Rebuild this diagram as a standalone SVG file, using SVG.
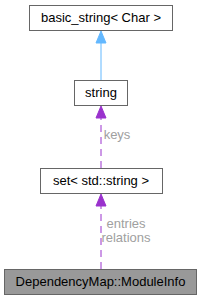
<svg xmlns="http://www.w3.org/2000/svg" width="203" height="301" viewBox="0 0 203 301">
<style>
.box{fill:#ffffff;stroke:#666666;stroke-width:1}
.t{font-family:"Liberation Sans",Arial,sans-serif;font-size:13px;fill:#000000;text-anchor:middle}
.lbl{font-family:"Liberation Sans",Arial,sans-serif;font-size:13px;fill:#a0a0a0;text-anchor:middle}
.inh{stroke:#63b8ff;stroke-width:1;fill:none}
.use{stroke:#9a32cd;stroke-width:1;fill:none;stroke-dasharray:7,5}
</style>
<rect width="203" height="301" fill="#ffffff"/>
<g id="edges">
<path class="inh" d="M101,80 L101,43"/>
<polygon points="101,31 106,43 96,43" fill="#63b8ff" stroke="#63b8ff"/>
<path class="use" d="M101,168 L101,118"/>
<polygon points="101,106 106,118 96,118" fill="#9a32cd" stroke="#9a32cd"/>
<text class="lbl" x="117" y="139">keys</text>
<path class="use" d="M101,269 L101,206"/>
<polygon points="101,194 106,206 96,206" fill="#9a32cd" stroke="#9a32cd"/>
<text class="lbl" x="126" y="228">entries</text>
<text class="lbl" x="126" y="242">relations</text>
</g>
<g id="basic_string">
<rect class="box" x="29.5" y="5.5" width="143" height="25"/>
<text class="t" x="101" y="22">basic_string&lt; Char &gt;</text>
</g>
<g id="string">
<rect class="box" x="74.5" y="80.5" width="53" height="25"/>
<text class="t" x="101" y="97">string</text>
</g>
<g id="set">
<rect class="box" x="40.5" y="168.5" width="122" height="25"/>
<text class="t" x="101" y="185">set&lt; std::string &gt;</text>
</g>
<g id="ModuleInfo">
<rect x="4.5" y="269.5" width="192" height="25" fill="#999999" stroke="#666666"/>
<text class="t" x="100.5" y="286">DependencyMap::ModuleInfo</text>
</g>
</svg>
